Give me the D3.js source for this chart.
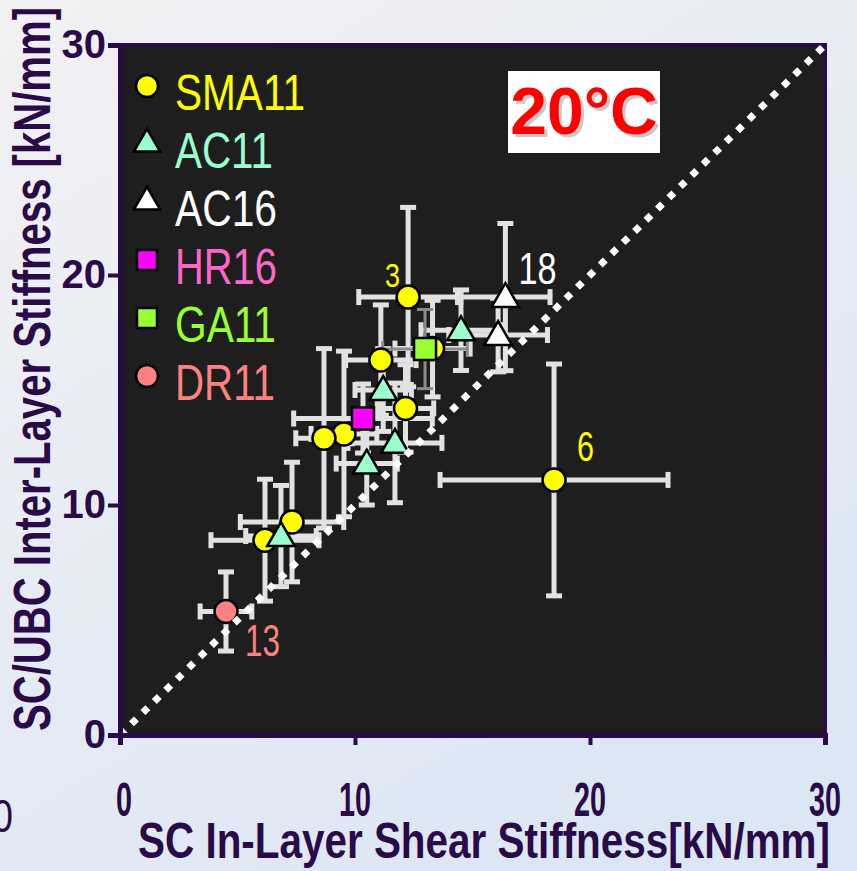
<!DOCTYPE html>
<html>
<head>
<meta charset="utf-8">
<script src="https://cdn.jsdelivr.net/npm/d3@7/dist/d3.min.js"></script>
<style>
  html, body { margin: 0; padding: 0; background: #e6ecf4; }
  svg { display: block; }
</style>
</head>
<body>
<svg id="chart" width="857" height="871"></svg>
<script>
// ---- data: [x = SC in-layer shear stiffness, y = inter-layer stiffness, x error, y error]
const seriesNames = ["SMA11", "AC11", "AC16", "HR16", "GA11", "DR11"];
const sma11 = [
  [12.26, 19.04, 2.1, 3.9],
  [11.1, 16.3, 1.5, 2.4],
  [13.3, 16.8, 1.6, 2.1],
  [12.15, 14.2, 1.2, 1.9],
  [9.53, 13.09, 1.4, 3.6],
  [8.68, 12.9, 1.2, 3.9],
  [7.32, 9.26, 2.2, 2.6],
  [6.17, 8.47, 2.3, 2.65],
  [18.47, 11.09, 4.85, 5.04]
];
const ac11 = [
  [14.51, 17.6, 1.7, 1.75],
  [11.2, 15.0, 1.2, 1.8],
  [11.7, 12.7, 2.0, 2.6],
  [10.5, 11.8, 1.3, 1.8],
  [6.85, 8.65, 1.5, 2.2]
];
const ac16 = [
  [16.4, 19.04, 1.9, 3.2],
  [16.09, 17.39, 2.1, 1.6]
];
const hr16 = [
  [10.34, 13.76, 2.95, 1.5]
];
const ga11 = [
  [12.98, 16.78, 1.8, 1.72]
];
const dr11 = [
  [4.51, 5.37, 1.1, 1.72]
];
// sample numbers written beside a few points: [x, y, text, series]
const pointLabels = [
  [12.26, 19.04, "3", "SMA11"],
  [16.4, 19.04, "18", "AC16"],
  [18.47, 11.09, "6", "SMA11"],
  [4.51, 5.37, "13", "DR11"]
];
const xTicks = [0, 10, 20, 30];
const yTicks = [0, 10, 20, 30];
const xTitle = "SC In-Layer Shear Stiffness[kN/mm]";
const yTitle = "SC/UBC Inter-Layer Stiffness [kN/mm]";
const tempLabel = "20°C";

// ---- styling per series
const style = {
  SMA11: { shape: "circle",   fill: "#ffff00", text: "#ffff00", width: 130 },
  AC11:  { shape: "triangle", fill: "#99ffcc", text: "#99ffcc", width: 98 },
  AC16:  { shape: "triangle", fill: "#ffffff", text: "#ffffff", width: 102 },
  HR16:  { shape: "square",   fill: "#ff00ff", text: "#ff66cc", width: 102 },
  GA11:  { shape: "square",   fill: "#99ff33", text: "#99ff33", width: 101 },
  DR11:  { shape: "circle",   fill: "#ff8080", text: "#ff8080", width: 100 }
};
const seriesData = { SMA11: sma11, AC11: ac11, AC16: ac16, HR16: hr16, GA11: ga11, DR11: dr11 };

const axisColor = "#2a0a48";
const sans = "'Liberation Sans', Arial, sans-serif";

const svg = d3.select("#chart");

// background gradient
const defs = svg.append("defs");
const bg = defs.append("linearGradient").attr("id", "bg")
  .attr("x1", "0").attr("y1", "0").attr("x2", "0.6").attr("y2", "1");
bg.append("stop").attr("offset", "0").attr("stop-color", "#f2f1f3");
bg.append("stop").attr("offset", "1").attr("stop-color", "#dce7f4");
svg.append("rect").attr("width", 857).attr("height", 871).attr("fill", "url(#bg)");

const x = d3.scaleLinear().domain([0, 30]).range([120, 825]);
const y = d3.scaleLinear().domain([0, 30]).range([735, 45]);

// plot panel
svg.append("rect")
  .attr("x", x(0)).attr("y", y(30))
  .attr("width", x(30) - x(0)).attr("height", y(0) - y(30))
  .attr("fill", "#1e1e1e")
  .attr("stroke", axisColor).attr("stroke-width", 4);

// stray glyph of a neighbouring panel at the left edge
svg.append("text").attr("x", -8).attr("y", 832)
  .attr("font-family", sans).attr("font-size", 46).attr("fill", axisColor)
  .attr("textLength", 21).attr("lengthAdjust", "spacingAndGlyphs").text("0");

// ---- error bars
const cap = 8;
function drawErrorBars(g, data, color, width) {
  data.forEach(d => {
    const [vx, vy, ex, ey] = d;
    const cx = x(vx), cy = y(vy);
    const segs = [
      [x(vx - ex), cy, x(vx + ex), cy],
      [cx, y(vy - ey), cx, y(vy + ey)],
      [x(vx - ex), cy - cap, x(vx - ex), cy + cap],
      [x(vx + ex), cy - cap, x(vx + ex), cy + cap],
      [cx - cap, y(vy - ey), cx + cap, y(vy - ey)],
      [cx - cap, y(vy + ey), cx + cap, y(vy + ey)]
    ];
    g.selectAll(null).data(segs).enter().append("line")
      .attr("x1", s => s[0]).attr("y1", s => s[1])
      .attr("x2", s => s[2]).attr("y2", s => s[3])
      .attr("stroke", color).attr("stroke-width", width);
  });
}
const barsG = svg.append("g");
["SMA11", "AC11", "AC16", "HR16", "DR11"].forEach(n => drawErrorBars(barsG, seriesData[n], "#e2e2e2", 5));
drawErrorBars(barsG, ga11, "#8a8a8a", 3);

// ---- markers
const symbolFor = {
  circle: d3.symbol().type(d3.symbolCircle).size(Math.PI * 11.5 * 11.5),
  triangle: d3.symbol().type(d3.symbolTriangle).size(330),
  square: d3.symbol().type(d3.symbolSquare).size(22 * 22)
};

const markersG = svg.append("g");
const drawOrder = ["SMA11", "AC16", "AC11", "GA11", "HR16", "DR11"];
drawOrder.forEach(n => {
  const st = style[n];
  markersG.selectAll(null).data(seriesData[n]).enter().append("path")
    .attr("d", symbolFor[st.shape]())
    .attr("transform", d => `translate(${x(d[0])},${y(d[1]) + (st.shape === "triangle" ? 2 : 0)})`)
    .attr("fill", st.fill).attr("stroke", "#000").attr("stroke-width", 2.5);
});

// ---- 1:1 line, drawn as a row of white diamonds
svg.append("line")
  .attr("x1", x(0)).attr("y1", y(0)).attr("x2", x(30)).attr("y2", y(30))
  .attr("stroke", "#ffffff").attr("stroke-width", 7)
  .attr("stroke-dasharray", "7,9");

// ---- sample number labels: [dx, dy (baseline), font size, width]
const labelOffset = { "3": [-23, -10, 34, 15], "18": [13, -13, 44, 38], "6": [23, -19, 42, 17], "13": [19, 45, 44, 35] };
pointLabels.forEach(([vx, vy, t, n]) => {
  const o = labelOffset[t];
  svg.append("text").attr("x", x(vx) + o[0]).attr("y", y(vy) + o[1])
    .attr("font-family", sans).attr("font-size", o[2])
    .attr("textLength", o[3]).attr("lengthAdjust", "spacingAndGlyphs")
    .attr("fill", style[n].text).text(t);
});

// ---- legend
const legend = svg.append("g");
seriesNames.forEach((n, i) => {
  const base = 110 + i * 58;
  const st = style[n];
  const ms = st.shape === "circle" ? d3.symbol().type(d3.symbolCircle).size(Math.PI * 11 * 11)
           : st.shape === "triangle" ? d3.symbol().type(d3.symbolTriangle).size(300)
           : d3.symbol().type(d3.symbolSquare).size(20 * 20);
  legend.append("path").attr("d", ms())
    .attr("transform", `translate(147,${base - 24})`)
    .attr("fill", st.fill).attr("stroke", "#000").attr("stroke-width", 2.5);
  legend.append("text").attr("x", 175).attr("y", base)
    .attr("font-family", sans).attr("font-size", 50)
    .attr("textLength", st.width).attr("lengthAdjust", "spacingAndGlyphs")
    .attr("fill", st.text).text(n);
});

// ---- temperature tag
svg.append("rect").attr("x", 508).attr("y", 71).attr("width", 152).attr("height", 82).attr("fill", "#ffffff");
svg.append("text").attr("x", 587).attr("y", 137).attr("text-anchor", "middle")
  .attr("font-family", sans).attr("font-weight", "bold").attr("font-size", 66)
  .attr("fill", "#c8c8c8").text(tempLabel);
svg.append("text").attr("x", 584).attr("y", 134).attr("text-anchor", "middle")
  .attr("font-family", sans).attr("font-weight", "bold").attr("font-size", 66)
  .attr("fill", "#ff0000").text(tempLabel);

// ---- axes
const yAxis = svg.append("g").attr("transform", `translate(${x(0)},0)`)
  .call(d3.axisLeft(y).tickValues(yTicks).tickSize(12).tickPadding(2).tickFormat(d3.format("d")));
yAxis.select(".domain").attr("stroke", axisColor).attr("stroke-width", 5);
yAxis.selectAll(".tick line").attr("stroke", axisColor).attr("stroke-width", 4);
yAxis.selectAll(".tick text").attr("fill", axisColor)
  .attr("font-family", sans).attr("font-weight", "bold").attr("font-size", 40);

const xAxis = svg.append("g").attr("transform", `translate(0,${y(0)})`)
  .call(d3.axisBottom(x).tickValues(xTicks).tickSize(10).tickFormat(() => ""));
xAxis.select(".domain").attr("stroke", axisColor).attr("stroke-width", 5);
xAxis.selectAll(".tick line").attr("stroke", axisColor).attr("stroke-width", 4);

// condensed tick numerals under the x axis
svg.append("g").selectAll("text").data(xTicks).enter().append("text")
  .attr("x", d => x(d) + (d === 0 ? 4 : 0)).attr("y", 816)
  .attr("text-anchor", "middle")
  .attr("font-family", sans).attr("font-weight", "bold").attr("font-size", 48)
  .attr("textLength", d => String(d).length * 16).attr("lengthAdjust", "spacingAndGlyphs")
  .attr("fill", axisColor).text(d => d);

// ---- axis titles
svg.append("text").attr("x", 138).attr("y", 858)
  .attr("font-family", sans).attr("font-weight", "bold").attr("font-size", 50)
  .attr("fill", axisColor).attr("textLength", 692).attr("lengthAdjust", "spacingAndGlyphs")
  .text(xTitle);
svg.append("text").attr("transform", "translate(50,731) rotate(-90)")
  .attr("font-family", sans).attr("font-weight", "bold").attr("font-size", 52)
  .attr("fill", axisColor).attr("textLength", 724).attr("lengthAdjust", "spacingAndGlyphs")
  .text(yTitle);
</script>
</body>
</html>
